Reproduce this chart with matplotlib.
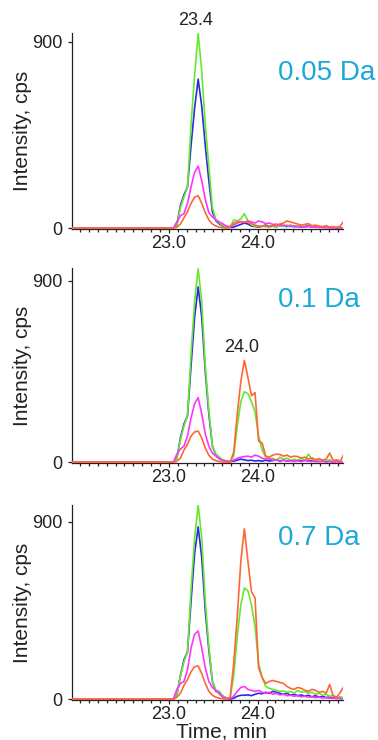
import matplotlib
matplotlib.use("Agg")
import matplotlib.pyplot as plt
from matplotlib.ticker import MultipleLocator

plt.rcParams['font.family'] = ['Liberation Sans', 'DejaVu Sans']

# ---- data -------------------------------------------------------------
time = [21.90,
        23.01, 23.05, 23.09, 23.13, 23.17, 23.21, 23.25, 23.29, 23.33, 23.37,
        23.41, 23.45, 23.49, 23.53, 23.57, 23.61, 23.65, 23.69, 23.73, 23.77,
        23.81, 23.85, 23.89, 23.93, 23.97, 24.01, 24.05, 24.09, 24.13, 24.17,
        24.21, 24.25, 24.29, 24.33, 24.37, 24.41, 24.45, 24.49, 24.53, 24.57,
        24.61, 24.65, 24.69, 24.73, 24.77, 24.81, 24.85, 24.89, 24.93, 24.97]

panel_labels = ["0.05 Da", "0.1 Da", "0.7 Da"]

blue_005 = [0, 0, 0, 15, 110, 160, 200, 400, 580, 720, 590, 400, 230, 80, 35, 20, 10, 5, 3, 5, 12,
            18, 25, 20, 10, 8, 5, 10, 15, 8, 12, 6, 18, 10, 8, 14, 6, 10, 5, 8, 12, 6, 4, 8, 3, 6, 2, 5, 0, 3, 0]
green_005 = [0, 0, 0, 10, 100, 150, 200, 500, 740, 940, 760, 500, 300, 100, 40, 25, 12, 5, 5, 40, 35,
             45, 70, 35, 15, 10, 8, 12, 6, 8, 10, 5, 12, 8, 15, 10, 6, 12, 8, 5, 10, 6, 8, 4, 6, 3, 5, 2, 4, 0, 3]
magenta_005 = [0, 0, 0, 30, 60, 70, 120, 200, 270, 300, 230, 140, 75, 55, 40, 30, 20, 10, 8, 15, 25,
               30, 28, 35, 30, 25, 35, 30, 22, 25, 18, 20, 12, 15, 10, 8, 12, 6, 10, 5, 8, 4, 6, 3, 5, 2, 4, 0, 3, 0, 2]
orange_005 = [0, 0, 0, 5, 20, 50, 80, 120, 150, 157, 120, 75, 40, 20, 10, 5, 2, 0, 5, 25, 30,
              32, 30, 28, 22, 15, 10, 8, 12, 6, 10, 15, 20, 25, 35, 30, 25, 20, 15, 18, 22, 12, 15, 10, 8, 12, 5, 8, 3, 10, 35]

blue_01 = [0, 0, 0, 20, 120, 190, 230, 480, 720, 870, 720, 450, 240, 80, 35, 20, 10, 5, 3, 5, 10,
           15, 12, 8, 10, 6, 8, 5, 10, 6, 8, 12, 5, 10, 6, 8, 4, 10, 6, 12, 5, 8, 3, 6, 10, 4, 6, 2, 5, 3, 0]
green_01 = [0, 0, 0, 20, 110, 180, 230, 540, 800, 960, 800, 480, 260, 80, 40, 25, 10, 5, 0, 30, 180,
            300, 350, 340, 300, 250, 130, 60, 25, 15, 20, 10, 25, 15, 20, 8, 15, 10, 20, 8, 40, 15, 6, 10, 4, 8, 12, 3, 6, 2, 4]
magenta_01 = [0, 0, 0, 40, 65, 80, 130, 220, 290, 320, 240, 140, 80, 45, 30, 15, 8, 5, 3, 10, 20,
              25, 28, 30, 25, 35, 30, 20, 15, 18, 10, 12, 8, 10, 5, 8, 4, 6, 3, 8, 5, 3, 6, 2, 4, 0, 3, 0, 2, 0, 0]
orange_01 = [0, 0, 0, 5, 20, 60, 90, 130, 150, 155, 120, 70, 35, 15, 8, 3, 0, 0, 0, 50, 240,
             400, 505, 420, 330, 345, 105, 95, 30, 25, 35, 40, 38, 30, 35, 25, 30, 28, 20, 25, 15, 22, 12, 18, 10, 15, 45, 8, 12, 5, 40]

blue_07 = [0, 0, 0, 20, 120, 200, 240, 500, 740, 875, 720, 450, 250, 90, 40, 35, 15, 5, 0, 5, 15,
           20, 20, 22, 18, 25, 30, 28, 35, 30, 40, 35, 30, 25, 30, 20, 25, 18, 22, 15, 20, 12, 18, 10, 15, 8, 12, 5, 10, 3, 5]
green_07 = [0, 0, 0, 20, 120, 190, 240, 560, 820, 985, 820, 500, 270, 90, 45, 40, 15, 5, 5, 120, 320,
            480, 565, 550, 480, 370, 180, 110, 65, 55, 50, 45, 40, 42, 35, 40, 30, 45, 35, 40, 30, 35, 25, 30, 20, 25, 15, 20, 10, 12, 8]
magenta_07 = [0, 0, 0, 50, 80, 90, 150, 260, 330, 346, 260, 160, 90, 60, 45, 25, 10, 5, 3, 15, 40,
              60, 65, 50, 45, 40, 45, 35, 30, 35, 25, 30, 22, 25, 18, 20, 15, 18, 12, 15, 10, 12, 8, 10, 6, 8, 5, 6, 3, 4, 2]
orange_07 = [0, 0, 0, 10, 30, 70, 100, 140, 165, 169, 130, 80, 40, 20, 10, 5, 2, 0, 10, 180, 420,
             700, 865, 700, 545, 515, 160, 110, 80, 90, 95, 90, 85, 80, 65, 55, 50, 60, 55, 45, 40, 50, 45, 35, 40, 30, 75, 15, 10, 35, 65]

peak_label_text = ["23.4", "24.0", None]
peak_label_pos = [(23.33, 940), (23.85, 505), None]

# ---- style ------------------------------------------------------------
c_blue = '#2a2ae0'
c_green = '#66e830'
c_magenta = '#ff33ff'
c_orange = '#ff6633'
c_text = '#1ea8d8'

W, H = 378, 740
fig = plt.figure(figsize=(W / 100, H / 100), dpi=100)

panels = [
    (blue_005, green_005, magenta_005, orange_005),
    (blue_01, green_01, magenta_01, orange_01),
    (blue_07, green_07, magenta_07, orange_07),
]
boxes = [(33, 229), (268, 463), (505, 700)]
ymaxes = [943, 964, 986]
text_y = [73, 300, 538]
left, right = 72, 343

for i, (series, (top, bot)) in enumerate(zip(panels, boxes)):
    ax = fig.add_axes([left / W, 1 - bot / H, (right - left) / W, (bot - top) / H])
    b, g, m, o = series
    lw = 1.2
    ax.plot(time, b, color=c_blue, lw=lw, zorder=2)
    ax.plot(time, g, color=c_green, lw=lw, zorder=3)
    ax.plot(time, m, color=c_magenta, lw=lw, zorder=4)
    ax.plot(time, o, color=c_orange, lw=lw, zorder=5)
    ax.set_xlim(21.91, 24.96)
    ax.set_ylim(-4, ymaxes[i])
    for s in ['top', 'right']:
        ax.spines[s].set_visible(False)
    for s in ['left', 'bottom']:
        ax.spines[s].set_color('#222222')
        ax.spines[s].set_linewidth(0.9)
    ax.set_yticks([0, 900])
    ax.set_yticklabels(['0', '900'])
    ax.set_xticks([23.0, 24.0])
    ax.set_xticklabels(['23.0', '24.0'])
    ax.xaxis.set_minor_locator(MultipleLocator(0.1))
    ax.tick_params(axis='both', which='major', labelsize=13, length=3, width=0.9,
                   colors='#222222', pad=1)
    ax.tick_params(axis='y', pad=4)
    ax.tick_params(axis='x', which='minor', length=2, width=0.9, colors='#222222')
    if peak_label_text[i]:
        px, py = peak_label_pos[i]
        ax.annotate(peak_label_text[i], xy=(px, py), xytext=(-2, 3),
                    textcoords='offset points', ha='center', va='bottom',
                    fontsize=13, color='#222222', annotation_clip=False)
    fig.text(23 / W, 1 - ((top + bot) / 2) / H, 'Intensity, cps', rotation=90,
             ha='center', va='center', fontsize=15, color='#222222')
    fig.text(278 / W, 1 - text_y[i] / H, panel_labels[i], ha='left', va='center',
             fontsize=20, color=c_text)

fig.text(222 / W, 1 - 732 / H, 'Time, min', ha='center', va='center',
         fontsize=15, color='#222222')

fig.savefig('out.png', dpi=100, facecolor='white')
